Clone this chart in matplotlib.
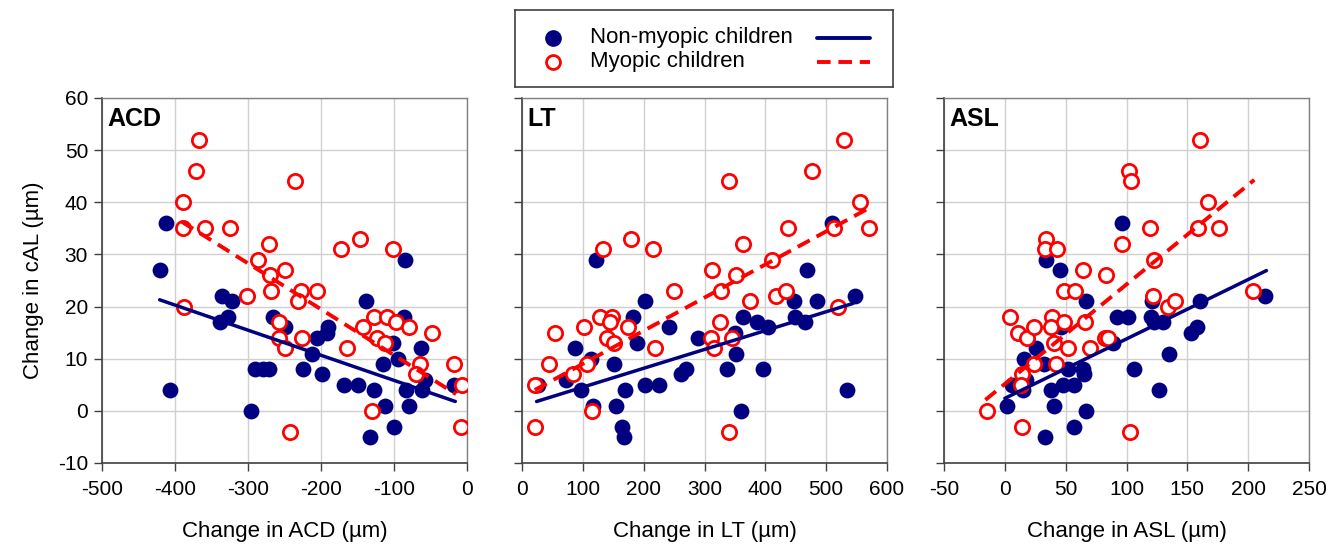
import matplotlib.pyplot as plt
import numpy as np

plt.rcParams['font.family'] = ['Liberation Sans', 'DejaVu Sans']
plt.rcParams['axes.unicode_minus'] = False

# ACD panel
acd_non_x = [-412, -421, -407, -336, -322, -338, -327, -266, -250, -291, -279, -271, -296,
             -224, -213, -205, -192, -190, -199, -169, -149, -138, -127, -133, -115, -112,
             -100, -101, -86, -94, -85, -83, -79, -63, -62, -57, -18]
acd_non_y = [36, 27, 4, 22, 21, 17, 18, 18, 16, 8, 8, 8, 0,
             8, 11, 14, 15, 16, 7, 5, 5, 21, 4, -5, 9, 1,
             -3, 13, 18, 10, 29, 4, 1, 12, 4, 6, 5]
acd_myo_x = [-367, -371, -389, -389, -359, -325, -387, -236, -271, -286, -270, -250, -301, -269,
             -227, -206, -232, -258, -258, -249, -226, -242, -172, -146, -102, -128, -110, -97,
             -80, -48, -142, -123, -112, -165, -65, -70, -18, -7, -130, -8]
acd_myo_y = [52, 46, 40, 35, 35, 35, 20, 44, 32, 29, 26, 27, 22, 23,
             23, 23, 21, 17, 14, 12, 14, -4, 31, 33, 31, 18, 18, 17,
             16, 15, 16, 14, 13, 12, 9, 7, 9, 5, 0, -3]
acd_non_fit_x = [-421, -16]
acd_non_fit_y = [21.3, 1.8]
acd_myo_fit_x = [-391, -15]
acd_myo_fit_y = [36.3, 3.2]

# LT panel
lt_non_x = [26, 73, 87, 97, 114, 117, 122, 152, 155, 169, 164, 168, 182, 189, 203, 202, 226,
            242, 261, 269, 290, 337, 350, 351, 360, 363, 386, 396, 404, 447, 449, 465, 469,
            485, 510, 534, 547]
lt_non_y = [5, 6, 12, 4, 10, 1, 29, 9, 1, 4, -3, -5, 18, 13, 21, 5, 5,
            16, 7, 8, 14, 8, 15, 11, 0, 18, 17, 8, 16, 21, 18, 17, 27,
            21, 36, 4, 22]
lt_myo_x = [22, 22, 45, 84, 54, 102, 107, 115, 133, 129, 148, 144, 140, 151, 175, 179, 215,
            218, 250, 312, 311, 316, 327, 325, 340, 340, 345, 352, 363, 375, 411, 418, 434,
            438, 477, 513, 519, 529, 555, 571]
lt_myo_y = [5, -3, 9, 7, 15, 16, 9, 0, 31, 18, 18, 17, 14, 13, 16, 33, 31,
            12, 23, 27, 14, 12, 23, 17, 44, -4, 14, 26, 32, 21, 29, 22, 23,
            35, 46, 35, 20, 52, 40, 35]
lt_non_fit_x = [24, 544]
lt_non_fit_y = [1.8, 20.6]
lt_myo_fit_x = [21, 569]
lt_myo_fit_y = [4.0, 38.8]

# ASL panel
asl_non_x = [2, 6, 15, 17, 16, 26, 32, 34, 33, 38, 40, 45, 46, 48, 52, 57, 57, 64, 65, 67, 67,
             89, 92, 101, 96, 106, 120, 121, 123, 130, 127, 135, 153, 158, 160, 214]
asl_non_y = [1, 5, 4, 6, 10, 12, 9, 29, -5, 4, 1, 27, 16, 5, 8, 5, -3, 8, 7, 21, 0,
             13, 18, 18, 36, 8, 18, 21, 17, 17, 4, 11, 15, 16, 21, 22]
asl_myo_x = [-15, 4, 11, 14, 13, 14, 18, 24, 24, 34, 33, 43, 39, 38, 40, 42, 49, 49, 52, 58,
             64, 66, 70, 83, 82, 85, 96, 102, 104, 103, 119, 123, 122, 134, 140, 159, 160,
             167, 176, 204]
asl_myo_y = [0, 18, 15, 7, 5, -3, 14, 16, 9, 33, 31, 31, 18, 16, 13, 9, 23, 17, 12, 23,
             27, 17, 12, 26, 14, 14, 32, 46, 44, -4, 35, 29, 22, 20, 21, 35, 52,
             40, 35, 23]
asl_non_fit_x = [0, 215]
asl_non_fit_y = [2.4, 26.9]
asl_myo_fit_x = [-16, 205]
asl_myo_fit_y = [2.1, 44.3]

panel_names = ['ACD', 'LT', 'ASL']
x_labels = ['Change in ACD (µm)', 'Change in LT (µm)', 'Change in ASL (µm)']
x_limits = [(-500, 0), (0, 600), (-50, 250)]
x_steps = [100, 100, 50]
y_ticks = [-10, 0, 10, 20, 30, 40, 50, 60]

non_color = '#000080'
myo_color = '#FF0000'
dash = (0, (3.5, 2))

fig = plt.figure(figsize=(13.38, 5.46), dpi=100)
lefts = [102, 522, 944]
axes = [fig.add_axes([l / 1338, 1 - 463 / 546, 365 / 1338, 365 / 546]) for l in lefts]

panels = [(acd_non_x, acd_non_y, acd_myo_x, acd_myo_y),
          (lt_non_x, lt_non_y, lt_myo_x, lt_myo_y),
          (asl_non_x, asl_non_y, asl_myo_x, asl_myo_y)]
fits = [(acd_non_fit_x, acd_non_fit_y, acd_myo_fit_x, acd_myo_fit_y),
        (lt_non_fit_x, lt_non_fit_y, lt_myo_fit_x, lt_myo_fit_y),
        (asl_non_fit_x, asl_non_fit_y, asl_myo_fit_x, asl_myo_fit_y)]

for i, ax in enumerate(axes):
    nx, ny, mx, my = panels[i]
    ax.scatter(nx, ny, s=130, color=non_color, zorder=3, linewidths=0)
    ax.scatter(mx, my, s=105, facecolors='white', edgecolors=myo_color, linewidths=2.0, zorder=4)
    fnx, fny, fmx, fmy = fits[i]
    ax.plot(fnx, fny, color=non_color, lw=2.5, zorder=5, solid_capstyle='round')
    ax.plot(fmx, fmy, color=myo_color, lw=2.8, ls=dash, zorder=6)

    ax.set_xlim(*x_limits[i])
    ax.set_ylim(-10, 60)
    ax.set_xticks(np.arange(x_limits[i][0], x_limits[i][1] + 1, x_steps[i]))
    ax.set_yticks(y_ticks)
    ax.grid(True, color='#D0D0D0', lw=1)
    ax.set_axisbelow(True)
    ax.tick_params(direction='out', length=6, width=1, color='#404040', labelsize=15, pad=6)
    ax.tick_params(axis='y', pad=4)
    for s in ['left', 'bottom']:
        ax.spines[s].set_color('#404040')
        ax.spines[s].set_linewidth(1.2)
    for s in ['top', 'right']:
        ax.spines[s].set_color('#808080')
        ax.spines[s].set_linewidth(1)
    if i > 0:
        ax.set_yticklabels([])
    ax.set_xlabel(x_labels[i], fontsize=16, labelpad=16)
    ax.text(0.015, 0.975, panel_names[i], transform=ax.transAxes, fontsize=18,
            fontweight='bold', ha='left', va='top')

axes[0].set_ylabel('Change in cAL (µm)', fontsize=16, labelpad=10)

# legend box
lax = fig.add_axes([515 / 1338, 1 - 87 / 546, 378 / 1338, 77 / 546])
lax.set_xlim(0, 1)
lax.set_ylim(0, 1)
lax.set_xticks([])
lax.set_yticks([])
for s in lax.spines.values():
    s.set_color('#404040')
    s.set_linewidth(1.2)
lax.plot([0.10], [0.64], 'o', ms=11, color=non_color, mec=non_color)
lax.plot([0.10], [0.33], 'o', ms=10, mfc='white', mec=myo_color, mew=2)
lax.text(0.198, 0.64, 'Non-myopic children', fontsize=16, va='center', ha='left')
lax.text(0.198, 0.33, 'Myopic children', fontsize=16, va='center', ha='left')
lax.plot([0.80, 0.94], [0.64, 0.64], color=non_color, lw=2.8, solid_capstyle='round')
lax.plot([0.80, 0.94], [0.33, 0.33], color=myo_color, lw=2.8, ls=dash)

fig.savefig('out.png', dpi=100)
